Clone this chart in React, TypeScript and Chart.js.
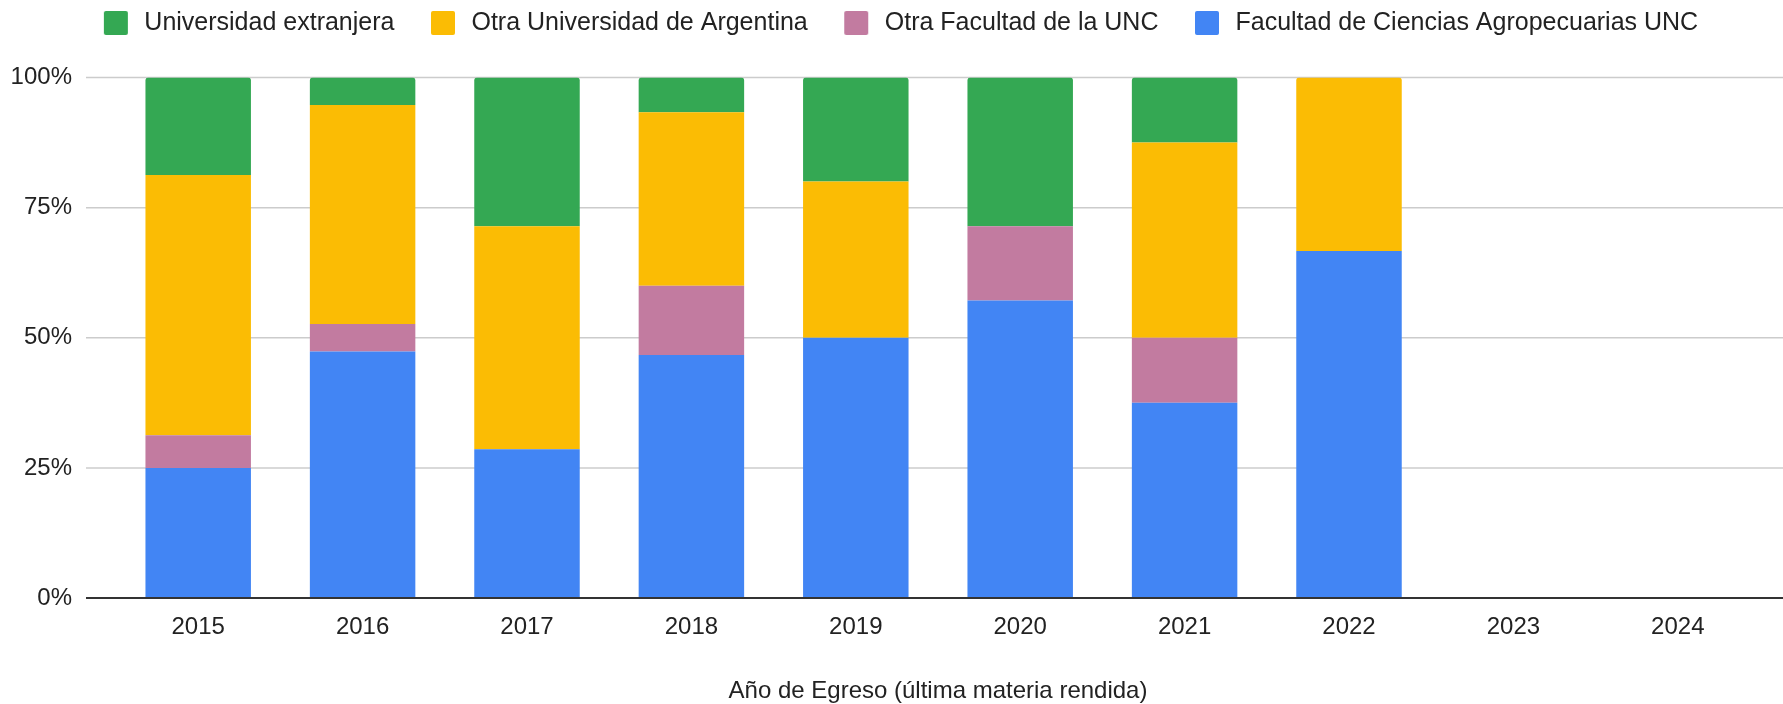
import React, { useEffect, useRef } from 'react';
import { Chart, registerables } from 'chart.js';

Chart.register(...registerables);

// ---- Data ----
const years = ['2015', '2016', '2017', '2018', '2019', '2020', '2021', '2022', '2023', '2024'];
const facultadAgro = [25, 47.37, 28.57, 46.67, 50, 57.14, 37.5, 66.67, null, null];
const otraFacultad = [6.25, 5.26, 0, 13.33, 0, 14.29, 12.5, 0, null, null];
const otraUniversidad = [50, 42.11, 42.86, 33.33, 30, 0, 37.5, 33.33, null, null];
const extranjera = [18.75, 5.26, 28.57, 6.67, 20, 28.57, 12.5, 0, null, null];
const yTicks = [0, 25, 50, 75, 100];

const seriesNames = [
  'Facultad de Ciencias Agropecuarias UNC',
  'Otra Facultad de la UNC',
  'Otra Universidad de Argentina',
  'Universidad extranjera',
];
const seriesColors = ['#4285F4', '#C27BA0', '#FBBC04', '#34A853'];
const seriesValues = [facultadAgro, otraFacultad, otraUniversidad, extranjera];

const xTitle = 'Año de Egreso (última materia rendida)';

const FONT = "'Liberation Sans', Arial, sans-serif";
const TEXT = '#222222';
const BOX = 24;
const LEAD = 26;
const TRAIL = 4;
const LEGEND_SHIFT = 8;

function makeLegendBox(color: string): HTMLCanvasElement {
  const c = document.createElement('canvas');
  c.width = LEAD + BOX + TRAIL;
  c.height = BOX;
  const ctx = c.getContext('2d')!;
  ctx.fillStyle = color;
  ctx.beginPath();
  (ctx as any).roundRect(LEAD, 0, BOX, BOX, 2);
  ctx.fill();
  return c;
}

const extGrid = {
  id: 'extGrid',
  beforeInit(chart: any) {
    const legend = chart.legend;
    if (legend) {
      const origFit = legend.fit;
      legend.fit = function () {
        origFit.call(this);
        this.height += 32;
      };
    }
  },
  afterLayout(chart: any) {
    const legend = chart.legend;
    if (legend) {
      legend.left += LEGEND_SHIFT;
      legend.right += LEGEND_SHIFT;
    }
  },
  beforeDatasetsDraw(chart: any) {
    const { ctx, chartArea, scales } = chart;
    const y = scales.y;
    const x0 = chartArea.left - 30;
    const x1 = chartArea.right + 23;
    ctx.save();
    ctx.strokeStyle = '#cccccc';
    ctx.lineWidth = 1.5;
    y.ticks.forEach((t: any) => {
      if (t.value === 0) return;
      const py = y.getPixelForValue(t.value);
      ctx.beginPath();
      ctx.moveTo(x0, py);
      ctx.lineTo(x1, py);
      ctx.stroke();
    });
    ctx.restore();
  },
  afterDatasetsDraw(chart: any) {
    const { ctx, chartArea, scales } = chart;
    const y = scales.y;
    const py = y.getPixelForValue(0);
    ctx.save();
    ctx.strokeStyle = '#333333';
    ctx.lineWidth = 2;
    ctx.beginPath();
    ctx.moveTo(chartArea.left - 30, py);
    ctx.lineTo(chartArea.right + 23, py);
    ctx.stroke();
    ctx.restore();
  },
};

export default function App() {
  const ref = useRef<HTMLCanvasElement>(null);

  useEffect(() => {
    if (!ref.current) return;
    const boxes = seriesColors.map(makeLegendBox);
    const chart = new Chart(ref.current, {
      type: 'bar',
      data: {
        labels: years,
        datasets: seriesNames.map((name, i) => ({
          label: name,
          data: seriesValues[i] as any,
          backgroundColor: seriesColors[i],
          borderWidth: 0,
          borderRadius: 3,
          borderSkipped: 'start',
          barPercentage: 0.6416,
          categoryPercentage: 1,
        })),
      },
      options: {
        responsive: false,
        animation: false,
        maintainAspectRatio: false,
        layout: { padding: { left: 0, right: 23, top: 0, bottom: 0 } },
        plugins: {
          tooltip: { enabled: false },
          legend: {
            display: true,
            position: 'top',
            reverse: true,
            labels: {
              font: { family: FONT, size: 25 },
              color: TEXT,
              padding: 10.5,
              usePointStyle: true,
              pointStyleWidth: LEAD + BOX + TRAIL,
              boxHeight: BOX,
              generateLabels: (chart: any) => {
                const items = Chart.defaults.plugins.legend.labels.generateLabels(chart);
                return items.map((it: any) => ({
                  ...it,
                  pointStyle: boxes[it.datasetIndex],
                }));
              },
            },
          },
        },
        scales: {
          x: {
            stacked: true,
            grid: { display: false },
            border: { display: false },
            ticks: {
              font: { family: FONT, size: 24 },
              color: TEXT,
              padding: 7,
              maxRotation: 0,
            },
            title: {
              display: true,
              text: xTitle,
              font: { family: FONT, size: 24, lineHeight: 1 },
              color: TEXT,
              padding: { top: 0, bottom: 1 },
            },
            afterFit: (s: any) => {
              s.height = 106;
            },
          },
          y: {
            stacked: true,
            min: 0,
            max: 100,
            grid: { display: false, drawTicks: false },
            border: { display: false },
            afterBuildTicks: (s: any) => {
              s.ticks = yTicks.map((v) => ({ value: v }));
            },
            ticks: {
              font: { family: FONT, size: 24 },
              color: TEXT,
              padding: 44,
              callback: (v: any) => `${v}%`,
            },
            afterFit: (s: any) => {
              s.width = 116;
            },
          },
        },
      },
      plugins: [extGrid],
    });
    return () => chart.destroy();
  }, []);

  return (
    <div style={{ position: 'fixed', left: 0, top: 0, width: 1783, height: 704, background: '#fff' }}>
      <canvas ref={ref} width={1783} height={704} style={{ width: 1783, height: 704, display: 'block' }} />
    </div>
  );
}
